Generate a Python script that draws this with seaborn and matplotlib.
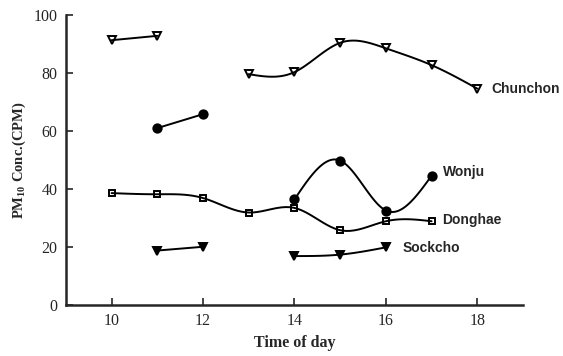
import numpy as np
import seaborn as sns
import matplotlib.pyplot as plt

# hour of day and PM10 readings, one list per run of the line
chunchon_x = [[10, 11], [13, 14, 15, 16, 17, 18]]
chunchon_y = [[91.3, 92.8], [79.6, 80.3, 90.4, 88.5, 82.7, 74.6]]
wonju_x = [[11, 12], [14, 15, 16, 17]]
wonju_y = [[61.0, 65.8], [36.4, 49.8, 32.6, 44.6]]
donghae_x = [[10, 11, 12, 13, 14, 15, 16, 17]]
donghae_y = [[38.6, 38.2, 36.9, 31.9, 33.5, 25.8, 28.9, 28.9]]
sockcho_x = [[11, 12], [14, 15, 16]]
sockcho_y = [[18.8, 20.1], [16.9, 17.4, 19.9]]

x_ticks = [10, 12, 14, 16, 18]
y_ticks = [0, 20, 40, 60, 80, 100]


def natural_spline(x, y, n=80):
    # natural cubic spline drawn through the measured points
    x = np.asarray(x, float)
    y = np.asarray(y, float)
    if len(x) < 3:
        return x, y
    h = np.diff(x)
    k = len(x)
    A = np.zeros((k, k))
    b = np.zeros(k)
    A[0, 0] = A[-1, -1] = 1
    for i in range(1, k - 1):
        A[i, i - 1] = h[i - 1]
        A[i, i] = 2 * (h[i - 1] + h[i])
        A[i, i + 1] = h[i]
        b[i] = 6 * ((y[i + 1] - y[i]) / h[i] - (y[i] - y[i - 1]) / h[i - 1])
    M = np.linalg.solve(A, b)
    xs = np.linspace(x[0], x[-1], n)
    idx = np.clip(np.searchsorted(x, xs) - 1, 0, k - 2)
    x0, x1 = x[idx], x[idx + 1]
    hh = x1 - x0
    t0 = x1 - xs
    t1 = xs - x0
    ys = (M[idx] * t0 ** 3 / (6 * hh) + M[idx + 1] * t1 ** 3 / (6 * hh)
          + (y[idx] / hh - M[idx] * hh / 6) * t0
          + (y[idx + 1] / hh - M[idx + 1] * hh / 6) * t1)
    return xs, ys


sns.set_style("ticks")
plt.rcParams['mathtext.fontset'] = 'custom'
plt.rcParams['mathtext.rm'] = 'Liberation Serif:bold'
plt.rcParams['mathtext.default'] = 'rm'

fig = plt.figure(figsize=(5.63, 3.56), dpi=100)
ax = fig.add_axes([0.117, 0.143, 0.812, 0.815])

series = [
    (chunchon_x, chunchon_y, 'v', 'none', 5.5),
    (wonju_x, wonju_y, 'o', 'black', 6.0),
    (donghae_x, donghae_y, 's', 'none', 5.0),
    (sockcho_x, sockcho_y, 'v', 'black', 5.5),
]
for xs_list, ys_list, mk, fc, ms in series:
    for xs, ys in zip(xs_list, ys_list):
        cx, cy = natural_spline(xs, ys)
        sns.lineplot(x=cx, y=cy, sort=False, estimator=None, color='black',
                     linewidth=1.4, ax=ax)
        ax.plot(xs, ys, linestyle='none', marker=mk, markersize=ms,
                markerfacecolor=fc, markeredgecolor='black', markeredgewidth=1.4)

lab = dict(fontsize=10, fontweight='bold', family='Liberation Sans', va='center')
ax.text(18.3, 74.4, 'Chunchon', **lab)
ax.text(17.26, 46.0, 'Wonju', **lab)
ax.text(17.24, 29.2, 'Donghae', **lab)
ax.text(16.36, 19.6, 'Sockcho', **lab)

ax.set_xlim(9, 19)
ax.set_ylim(0, 100)
ax.set_xticks(x_ticks)
ax.set_yticks(y_ticks)
for t in ax.get_xticklabels() + ax.get_yticklabels():
    t.set_family('Liberation Serif')
    t.set_fontsize(11.5)
ax.tick_params(direction='in', length=5, width=1.2, pad=6)
ax.set_xlabel('Time of day', family='Liberation Serif', fontweight='bold',
              fontsize=11.5)
ax.set_ylabel('PM$_{10}$ Conc.(CPM)', family='Liberation Serif',
              fontweight='bold', fontsize=10.5)
sns.despine(ax=ax)
for s in ['left', 'bottom']:
    ax.spines[s].set_linewidth(1.8)

fig.savefig('out.png', dpi=100)
